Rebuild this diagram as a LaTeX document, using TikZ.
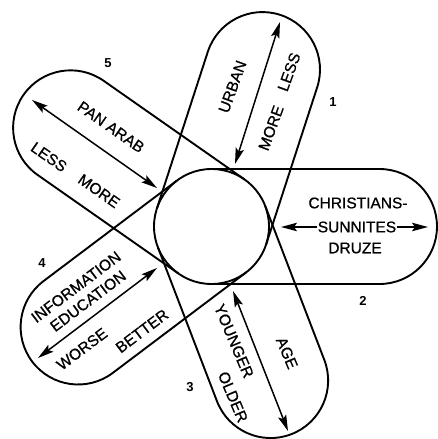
\documentclass[tikz,border=0pt]{standalone}
\usepackage{fontspec}
\setmainfont{Liberation Sans}
\newfontfamily\lblfont[FakeBold=0.8]{Liberation Sans}
\usetikzlibrary{arrows.meta,calc}
\tikzset{
  petal/.style={line width=1.9pt, line join=round},
  hub/.style={line width=1.9pt},
  dbl/.style={line width=1.5pt, {Stealth[length=16pt,width=8.5pt,inset=3pt]}-{Stealth[length=16pt,width=8.5pt,inset=3pt]}},
  lbl/.style={inner sep=0pt, font=\lblfont\fontsize{15.5}{16}\selectfont},
  num/.style={inner sep=0pt, font=\fontsize{13}{14}\selectfont\bfseries}
}
\begin{document}
\begin{tikzpicture}[x=1pt,y=1pt]
\useasboundingbox (0,0) rectangle (438,-439);
\coordinate (C) at (211.5,-226.5);
% petals
\foreach \a/\L in {0/168, 72/165, 145/172, 217/167, -69/165}{
  \draw[petal] ($(C)+(\a+90:57.5)$) -- ++(\a:\L)
     arc[start angle=\a+90, end angle=\a-90, radius=57.5] -- ++(\a+180:\L);
}
\draw[hub] (C) circle[radius=57.5];
% arrow end points
\coordinate (a1s) at (235,-164); \coordinate (a1e) at (280,-22);
\coordinate (a2s) at (281,-227); \coordinate (a2e) at (428,-227);
\coordinate (a3s) at (233,-291); \coordinate (a3e) at (288,-431);
\coordinate (a4s) at (157,-268); \coordinate (a4e) at (38,-358);
\coordinate (a5s) at (32,-100);  \coordinate (a5e) at (157,-188);
\draw[dbl] (a1s) -- (a1e);
\draw[dbl] (a2s) -- (a2e);
\draw[dbl] (a3s) -- (a3e);
\draw[dbl] (a4s) -- (a4e);
\draw[dbl] (a5s) -- (a5e);
% petal 1
\node[lbl, rotate=70] (urban) at (232.5,-86.7) {URBAN};
\node[lbl, rotate=70] (more1) at (271,-128) {MORE};
\node[lbl, rotate=70] (less1) at (289,-72) {LESS};
\node[num] (n1) at (333,-102) {1};
% petal 2
\node[lbl] (chr) at (358,-203) {CHRISTIANS-};
\node[lbl, fill=white, inner xsep=1pt, inner ysep=1pt] (sun) at (357,-227) {SUNNITES};
\node[lbl] (dru) at (355,-248) {DRUZE};
\node[num] (n2) at (363,-301) {2};
% petal 3
\node[lbl, rotate=-67] (young) at (234,-341) {YOUNGER};
\node[lbl, rotate=-67] (old) at (233,-397) {OLDER};
\node[lbl, rotate=-67] (age) at (287,-353) {AGE};
\node[num] (n3) at (190,-387) {3};
% petal 4
\node[lbl, rotate=37] (info) at (76,-287) {INFORMATION};
\node[lbl, rotate=37] (edu) at (88,-301) {EDUCATION};
\node[lbl, rotate=37] (worse) at (82,-349) {WORSE};
\node[lbl, rotate=37] (better) at (142,-331) {BETTER};
\node[num] (n4) at (42,-263) {4};
% petal 5
\node[lbl, rotate=-35] (pan) at (111,-127) {PAN ARAB};
\node[lbl, rotate=-35] (less5) at (49,-157) {LESS};
\node[lbl, rotate=-35] (more5) at (99,-191) {MORE};
\node[num] (n5) at (108,-63) {5};
\end{tikzpicture}
\end{document}
